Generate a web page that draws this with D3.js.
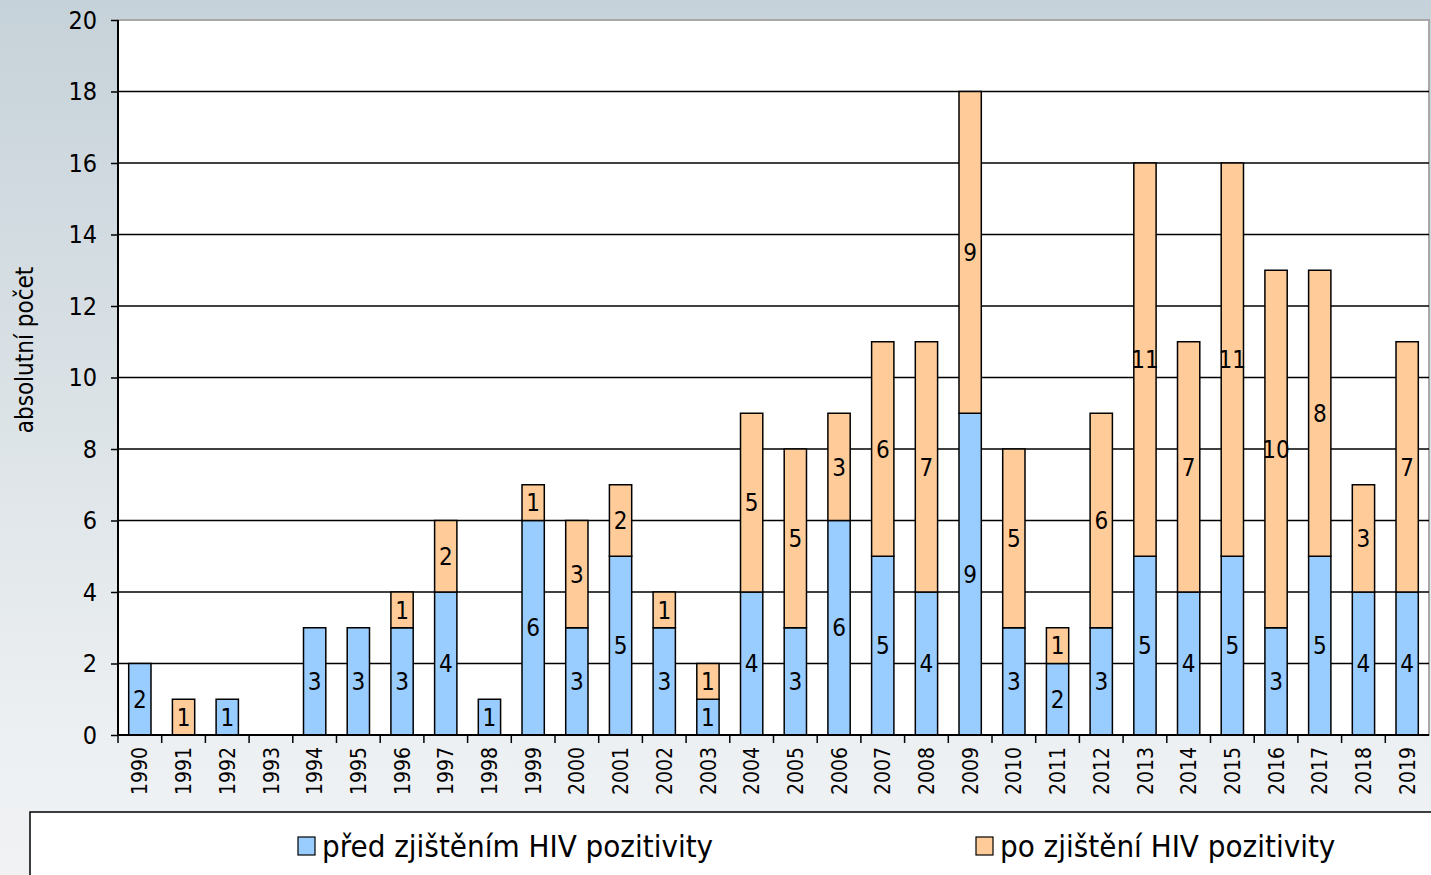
<!DOCTYPE html>
<html>
<head>
<meta charset="utf-8">
<script src="https://cdn.jsdelivr.net/npm/d3@7"></script>
<style>
	body { margin: 0; overflow: hidden; }
	svg { display: block; }
</style>
</head>
<body>
<div id="chart"></div>
<script>
// data
var years = ['1990', '1991', '1992', '1993', '1994', '1995', '1996', '1997', '1998', '1999',
	'2000', '2001', '2002', '2003', '2004', '2005', '2006', '2007', '2008', '2009',
	'2010', '2011', '2012', '2013', '2014', '2015', '2016', '2017', '2018', '2019'];
var before = [2, 0, 1, 0, 3, 3, 3, 4, 1, 6, 3, 5, 3, 1, 4, 3, 6, 5, 4, 9, 3, 2, 3, 5, 4, 5, 3, 5, 4, 4];
var after = [0, 1, 0, 0, 0, 0, 1, 2, 0, 1, 3, 2, 1, 1, 5, 5, 3, 6, 7, 9, 5, 1, 6, 11, 7, 11, 10, 8, 3, 7];
var series_names = ['před zjištěním HIV pozitivity', 'po zjištění HIV pozitivity'];
var y_ticks = [0, 2, 4, 6, 8, 10, 12, 14, 16, 18, 20];

var font = '"DejaVu Sans Condensed", "DejaVu Sans", sans-serif';
var total_w = 1431;
var total_h = 875;
var margin = {top: 20, right: 2, bottom: 140, left: 118};
var width = total_w - margin.left - margin.right;
var height = total_h - margin.top - margin.bottom;

var svg = d3.select('#chart')
	.append('svg')
		.attr('width', total_w)
		.attr('height', total_h);

// background gradient
var grad = svg.append('defs')
	.append('linearGradient')
		.attr('id', 'bg')
		.attr('x1', 0).attr('y1', 0)
		.attr('x2', 0).attr('y2', 1);
grad.append('stop').attr('offset', '0%').attr('stop-color', '#c6d2d9');
grad.append('stop').attr('offset', '85%').attr('stop-color', '#edf0f2');
grad.append('stop').attr('offset', '100%').attr('stop-color', '#f0f2f4');
svg.append('rect')
	.attr('width', total_w)
	.attr('height', total_h)
	.attr('fill', 'url(#bg)');

var g = svg.append('g')
	.attr('transform', 'translate(' + margin.left + ',' + margin.top + ')');

var x = d3.scaleBand()
	.domain(years)
	.range([0, width])
	.paddingInner(0.49)
	.paddingOuter(0.245);

var x_cat = d3.scaleBand()
	.domain(years)
	.range([0, width]);

var y = d3.scaleLinear()
	.domain([0, 20])
	.range([height, 0]);

// plot area
g.append('rect')
	.attr('width', width)
	.attr('height', height)
	.attr('fill', 'white')
	.attr('stroke', '#a8a8a8')
	.attr('stroke-width', 2);

// gridlines
g.append('g')
	.selectAll('line')
	.data(y_ticks.slice(1, -1))
	.enter()
	.append('line')
		.attr('x1', 0)
		.attr('x2', width)
		.attr('y1', function(d) { return y(d); })
		.attr('y2', function(d) { return y(d); })
		.attr('stroke', 'black')
		.attr('stroke-width', 1.5);

// stacked bars
var table = years.map(function(yr, i) {
	return {year: yr, before: before[i], after: after[i]};
});
var stack = d3.stack().keys(['before', 'after'])(table);
var colors = ['#99ccff', '#ffcc99'];

var layers = g.append('g')
	.selectAll('g')
	.data(stack)
	.enter()
	.append('g')
		.attr('fill', function(d, i) { return colors[i]; });

layers.selectAll('rect')
	.data(function(d) { return d.filter(function(s) { return s[1] - s[0] > 0; }); })
	.enter()
	.append('rect')
		.attr('x', function(d) { return x(d.data.year); })
		.attr('y', function(d) { return y(d[1]); })
		.attr('width', x.bandwidth())
		.attr('height', function(d) { return y(d[0]) - y(d[1]); })
		.attr('stroke', 'black')
		.attr('stroke-width', 1.5);

layers.selectAll('text')
	.data(function(d) { return d.filter(function(s) { return s[1] - s[0] > 0; }); })
	.enter()
	.append('text')
		.attr('x', function(d) { return x(d.data.year) + x.bandwidth() / 2; })
		.attr('y', function(d) { return y((d[0] + d[1]) / 2); })
		.attr('dy', '0.36em')
		.attr('text-anchor', 'middle')
		.attr('fill', 'black')
		.style('font-family', font)
		.style('font-size', '24px')
		.text(function(d) { return d[1] - d[0]; });

// y axis
var y_axis = g.append('g')
	.call(d3.axisLeft(y).tickValues(y_ticks).tickSize(7).tickPadding(14));
y_axis.select('.domain').attr('stroke', 'black').attr('stroke-width', 2).attr('d', 'M0,0V' + height);
y_axis.selectAll('.tick line').attr('stroke', 'black').attr('stroke-width', 1.5);
y_axis.selectAll('.tick text')
	.attr('fill', 'black')
	.style('font-family', font)
	.style('font-size', '25px');

// x axis
var x_axis = g.append('g')
	.attr('transform', 'translate(0,' + height + ')');
x_axis.append('line')
	.attr('x1', 0).attr('x2', width)
	.attr('stroke', 'black')
	.attr('stroke-width', 2);
x_axis.selectAll('.xtick')
	.data(years)
	.enter()
	.append('line')
		.attr('class', 'xtick')
		.attr('x1', function(d) { return x_cat(d); })
		.attr('x2', function(d) { return x_cat(d); })
		.attr('y1', 0)
		.attr('y2', 8)
		.attr('stroke', 'black')
		.attr('stroke-width', 1.5);
x_axis.selectAll('.xlabel')
	.data(years)
	.enter()
	.append('text')
		.attr('class', 'xlabel')
		.attr('transform', function(d) {
			return 'translate(' + (x_cat(d) + x_cat.bandwidth() / 2) + ',12) rotate(-90)';
		})
		.attr('text-anchor', 'end')
		.attr('dy', '0.36em')
		.attr('fill', 'black')
		.style('font-family', font)
		.style('font-size', '21px')
		.text(function(d) { return d; });

// y-axis label
svg.append('text')
	.attr('transform', 'translate(24,350) rotate(-90)')
	.attr('text-anchor', 'middle')
	.attr('dy', '0.36em')
	.attr('fill', 'black')
	.style('font-family', font)
	.style('font-size', '24px')
	.text('absolutní počet');

// legend
svg.append('rect')
	.attr('x', 30)
	.attr('y', 812)
	.attr('width', 1420)
	.attr('height', 80)
	.attr('fill', 'white')
	.attr('stroke', 'black')
	.attr('stroke-width', 1.5);

var legend_x = [298, 976];
var legend = svg.selectAll('.legend')
	.data(series_names)
	.enter()
	.append('g')
		.attr('class', 'legend')
		.attr('transform', function(d, i) { return 'translate(' + legend_x[i] + ',837)'; });
legend.append('rect')
	.attr('width', 17)
	.attr('height', 18)
	.attr('fill', function(d, i) { return colors[i]; })
	.attr('stroke', 'black')
	.attr('stroke-width', 1.2);
legend.append('text')
	.attr('x', 24)
	.attr('y', 9)
	.attr('dy', '0.36em')
	.attr('fill', 'black')
	.style('font-family', font)
	.style('font-size', '31px')
	.text(function(d) { return d; });
</script>
</body>
</html>
